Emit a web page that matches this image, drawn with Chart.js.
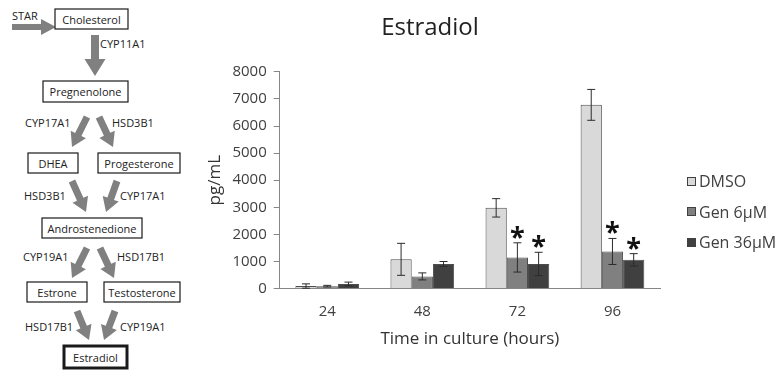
<!DOCTYPE html>
<html>
<head>
<meta charset="utf-8">
<script src="https://cdn.jsdelivr.net/npm/chart.js"></script>
<style>
  body { margin: 0; background: #fff; }
  #wrap { position: relative; width: 778px; height: 374px; overflow: hidden; font-family: "Open Sans", sans-serif; }
  #pathway { position: absolute; left: 0; top: 0; }
  #chartBox { position: absolute; left: 200px; top: 0; width: 538px; height: 374px; }
  #legend { position: absolute; left: 687px; top: 166px; color: #404040; font-size: 16px; }
  #legend div { height: 30.5px; display: flex; align-items: center; white-space: nowrap; }
  #legend span.sw { display: inline-block; width: 7px; height: 7px; border: 1px solid #404040; margin-right: 3px; }
</style>
</head>
<body>
<div id="wrap">
  <svg id="pathway" width="200" height="374" xmlns="http://www.w3.org/2000/svg"></svg>
  <div id="chartBox"><canvas id="estradiolChart" width="538" height="374"></canvas></div>
  <div id="legend"></div>
</div>
<script>
// Estradiol data (pg/mL)
const timepoints = ['24', '48', '72', '96'];
const seriesNames = ['DMSO', 'Gen 6\u00b5M', 'Gen 36\u00b5M'];
const seriesColors = ['#d9d9d9', '#808080', '#404040'];
const dmsoValues = [95, 1080, 2980, 6780];
const gen6Values = [90, 450, 1150, 1370];
const gen36Values = [170, 910, 910, 1060];
const dmsoErrors = [80, 590, 340, 570];
const gen6Errors = [30, 130, 540, 480];
const gen36Errors = [70, 90, 430, 230];
const gen6Significant = [false, false, true, true];
const gen36Significant = [false, false, true, true];
const yTicks = [0, 1000, 2000, 3000, 4000, 5000, 6000, 7000, 8000];

// ---- steroid pathway diagram (left side) ----
const svg = document.getElementById('pathway');
const NS = 'http://www.w3.org/2000/svg';

function addArrow(x1, y1, x2, y2, shaft, headW, headL) {
  const dx = x2 - x1, dy = y2 - y1;
  const len = Math.sqrt(dx * dx + dy * dy);
  const ux = dx / len, uy = dy / len;
  const px = -uy, py = ux;
  const bx = x2 - ux * headL, by = y2 - uy * headL;
  const pts = [
    [x1 + px * shaft / 2, y1 + py * shaft / 2],
    [bx + px * shaft / 2, by + py * shaft / 2],
    [bx + px * headW / 2, by + py * headW / 2],
    [x2, y2],
    [bx - px * headW / 2, by - py * headW / 2],
    [bx - px * shaft / 2, by - py * shaft / 2],
    [x1 - px * shaft / 2, y1 - py * shaft / 2]
  ];
  const poly = document.createElementNS(NS, 'polygon');
  poly.setAttribute('points', pts.map(p => p[0].toFixed(1) + ',' + p[1].toFixed(1)).join(' '));
  poly.setAttribute('fill', '#808080');
  svg.appendChild(poly);
}

function addBox(x, y, w, h, label, thick) {
  const r = document.createElementNS(NS, 'rect');
  const sw = thick ? 3 : 1.2;
  r.setAttribute('x', x); r.setAttribute('y', y);
  r.setAttribute('width', w); r.setAttribute('height', h);
  r.setAttribute('fill', '#fff'); r.setAttribute('stroke', '#1a1a1a');
  r.setAttribute('stroke-width', sw);
  svg.appendChild(r);
  addText(x + w / 2, y + h / 2, label, 'middle');
}

function addText(x, y, label, anchor) {
  const t = document.createElementNS(NS, 'text');
  t.setAttribute('x', x); t.setAttribute('y', y);
  t.setAttribute('text-anchor', anchor || 'start');
  t.setAttribute('dominant-baseline', 'central');
  t.setAttribute('font-family', 'Open Sans, sans-serif');
  t.setAttribute('font-size', '11');
  t.setAttribute('fill', '#222');
  t.textContent = label;
  svg.appendChild(t);
}

addText(12, 15, 'STAR');
addArrow(12, 27, 56, 27, 6, 16, 15);
addBox(55, 9, 73, 20, 'Cholesterol');
addArrow(95, 35, 95, 76, 8, 21, 17);
addText(100, 43, 'CYP11A1');
addBox(43, 81, 85, 21, 'Pregnenolone');

addText(25, 122, 'CYP17A1');
addText(112, 122, 'HSD3B1');
addArrow(87, 117, 72, 147, 7, 17, 14);
addArrow(99, 117, 113, 147, 7, 17, 14);
addBox(28, 153, 50, 20, 'DHEA');
addBox(98, 153, 82, 20, 'Progesterone');

addText(24, 195, 'HSD3B1');
addText(120, 195, 'CYP17A1');
addArrow(72, 181, 86, 212, 7, 17, 14);
addArrow(117, 181, 106, 212, 7, 17, 14);
addBox(42, 218, 100, 20, 'Androstenedione');

addText(23, 256, 'CYP19A1');
addText(117, 256, 'HSD17B1');
addArrow(87, 248, 72, 278, 7, 17, 14);
addArrow(100, 248, 114, 278, 7, 17, 14);
addBox(27, 282, 60, 20, 'Estrone');
addBox(104, 282, 76, 20, 'Testosterone');

addText(25, 326, 'HSD17B1');
addText(120, 326, 'CYP19A1');
addArrow(77, 311, 89, 340, 7, 17, 14);
addArrow(115, 311, 104, 340, 7, 17, 14);
addBox(64, 346, 63, 22, 'Estradiol', true);

// ---- legend ----
const legend = document.getElementById('legend');
seriesNames.forEach((name, i) => {
  const row = document.createElement('div');
  row.innerHTML = '<span class="sw" style="background:' + seriesColors[i] + '"></span>' + name;
  legend.appendChild(row);
});

// ---- error bars and significance stars ----
const errorSets = [dmsoErrors, gen6Errors, gen36Errors];
const sigSets = [null, gen6Significant, gen36Significant];

const errorBarPlugin = {
  id: 'errorBars',
  afterDatasetsDraw(chart) {
    const ctx = chart.ctx;
    const yScale = chart.scales.y;
    ctx.save();
    chart.data.datasets.forEach((ds, i) => {
      const meta = chart.getDatasetMeta(i);
      meta.data.forEach((bar, j) => {
        const v = ds.data[j];
        const e = errorSets[i][j];
        const top = yScale.getPixelForValue(v + e);
        const bot = yScale.getPixelForValue(Math.max(v - e, 0));
        ctx.strokeStyle = '#2b2b2b';
        ctx.lineWidth = 1;
        ctx.beginPath();
        ctx.moveTo(bar.x, top); ctx.lineTo(bar.x, bot);
        ctx.moveTo(bar.x - 4, top); ctx.lineTo(bar.x + 4, top);
        ctx.moveTo(bar.x - 4, bot); ctx.lineTo(bar.x + 4, bot);
        ctx.stroke();
        if (sigSets[i] && sigSets[i][j]) {
          ctx.fillStyle = '#111';
          ctx.font = 'bold 27px "Open Sans"';
          ctx.textAlign = 'center';
          ctx.textBaseline = 'alphabetic';
          ctx.fillText('*', bar.x, top + 3);
        }
      });
    });
    ctx.restore();
  }
};

const ctx = document.getElementById('estradiolChart').getContext('2d');
new Chart(ctx, {
  type: 'bar',
  data: {
    labels: timepoints,
    datasets: [
      { label: seriesNames[0], data: dmsoValues, backgroundColor: seriesColors[0] },
      { label: seriesNames[1], data: gen6Values, backgroundColor: seriesColors[1] },
      { label: seriesNames[2], data: gen36Values, backgroundColor: seriesColors[2] }
    ].map(d => Object.assign(d, { borderColor: '#4d4d4d', borderWidth: 1, categoryPercentage: 0.67, barPercentage: 1.0 }))
  },
  options: {
    responsive: false,
    animation: false,
    devicePixelRatio: 1,
    layout: { padding: { left: 0, right: 78, top: 0, bottom: 21 } },
    scales: {
      y: {
        min: 0,
        max: 8000,
        afterBuildTicks: axis => { axis.ticks = yTicks.map(v => ({ value: v })); },
        grid: { display: true, drawOnChartArea: false, tickLength: 6, color: '#868686' },
        border: { color: '#868686' },
        ticks: { color: '#404040', font: { family: 'Open Sans', size: 15 }, padding: 7, callback: v => String(v) },
        title: { display: true, text: 'pg/mL', color: '#333', font: { family: 'Open Sans', size: 17 }, padding: { top: 5, bottom: 0 } }
      },
      x: {
        grid: { display: false, drawTicks: false },
        border: { color: '#868686' },
        ticks: { color: '#404040', font: { family: 'Open Sans', size: 15 }, padding: 14 },
        title: { display: true, text: 'Time in culture (hours)', color: '#333', font: { family: 'Open Sans', size: 17 }, padding: { top: -6, bottom: 4 } }
      }
    },
    plugins: {
      legend: { display: false },
      tooltip: { enabled: false },
      title: {
        display: true,
        text: 'Estradiol',
        color: '#222',
        font: { family: 'Open Sans', size: 24, weight: 'normal' },
        padding: { top: 14, bottom: 29 }
      }
    }
  },
  plugins: [errorBarPlugin]
});
</script>
</body>
</html>
